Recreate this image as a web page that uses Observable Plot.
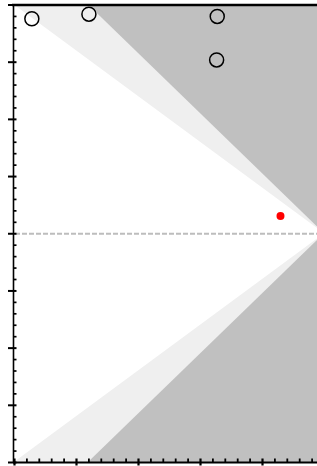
<!DOCTYPE html>
<html>
<head>
<meta charset="utf-8">
<script src="https://cdn.jsdelivr.net/npm/d3@7"></script>
<script src="https://cdn.jsdelivr.net/npm/@observablehq/plot@0.6"></script>
<style>
  html, body { margin: 0; padding: 0; background: #fff; }
  #chart svg { display: block; }
</style>
</head>
<body>
<div id="chart"></div>
<script>
// Study points (x: position along funnel axis, y: effect)
const studyX = [0.28, 1.20, 3.27, 3.26];
const studyY = [3.76, 3.84, 3.80, 3.04];
// Pooled estimate (red)
const pooledX = [4.29];
const pooledY = [0.31];
// Summary effect line
const summaryEffect = [0];
// Contour levels (z) and their fills: inside 1.96 white, 1.96–2.576 light, beyond dark
const contourZ = [2.576, 1.96];
const contourFill = ["#efefef", "#ffffff"];
const outerFill = "#c0c0c0";
// Funnel apex position and SE scale
const apexX = 5;
const seScale = 0.408;
// Axis ticks
const xMajor = [0, 1, 2, 3, 4];
const xMinor = d3.range(0, 4.9, 0.2).filter(v => Math.abs(v - Math.round(v)) > 1e-6);
const yMajor = [-4, -3, -2, -1, 0, 1, 2, 3, 4];
const yMinor = d3.range(-4, 4.01, 0.2).filter(v => Math.abs(v - Math.round(v)) > 1e-6);

const xMin = -0.016, xMax = 4.887;
const edgeX = [xMin, apexX];

const studies = studyX.map((x, i) => ({x, y: studyY[i]}));
const pooled = pooledX.map((x, i) => ({x, y: pooledY[i]}));

const contourMarks = contourZ.map((z, i) =>
  Plot.areaY(edgeX, {
    x: d => d,
    y1: d => -z * seScale * (apexX - d),
    y2: d => z * seScale * (apexX - d),
    fill: contourFill[i],
    clip: true
  })
);

// tick length helpers in data units
const px = 62, py = 57.19;

const chart = Plot.plot({
  width: 317,
  height: 466,
  marginLeft: 13,
  marginRight: 0,
  marginTop: 4.5,
  marginBottom: 4,
  x: {domain: [xMin, xMax], axis: null},
  y: {domain: [-4, 4], axis: null},
  marks: [
    Plot.frame({fill: outerFill, stroke: null}),
    ...contourMarks,
    Plot.ruleY(summaryEffect, {x1: xMin + 2 / px, x2: xMax, stroke: "#bdbdbd", strokeWidth: 2.2, strokeDasharray: "5,2"}),
    // right edge
    Plot.ruleX([xMax], {stroke: "#aaaaaa", strokeWidth: 0.6}),
    // axes lines
    Plot.ruleY([4], {x1: xMin - 1 / px, x2: xMax, stroke: "black", strokeWidth: 2.5}),
    Plot.ruleX([xMin], {y1: -4 - 1 / py, y2: 4, stroke: "black", strokeWidth: 1.6}),
    Plot.ruleY([-4], {x1: xMin, x2: xMax, stroke: "black", strokeWidth: 1.8}),
    // y ticks
    Plot.ruleY(yMinor, {y: d => d, x1: xMin, x2: xMin + 3.5 / px, stroke: "black", strokeWidth: 1.7}),
    Plot.ruleY(yMajor, {y: d => d, x1: xMin - 5 / px, x2: xMin + 3.5 / px, stroke: "black", strokeWidth: 2}),
    // x ticks
    Plot.ruleX(xMinor, {x: d => d, y1: -4, y2: -4 + 3.5 / py, stroke: "black", strokeWidth: 1.8}),
    Plot.ruleX(xMajor, {x: d => d, y1: -4 - 3.5 / py, y2: -4 + 3.5 / py, stroke: "black", strokeWidth: 2.2}),
    // points
    Plot.dot(studies, {x: "x", y: "y", r: 7, stroke: "black", strokeWidth: 1.5, fill: "none"}),
    Plot.dot(pooled, {x: "x", y: "y", r: 4, fill: "red", stroke: "none"})
  ]
});
document.getElementById("chart").append(chart);
</script>
</body>
</html>
